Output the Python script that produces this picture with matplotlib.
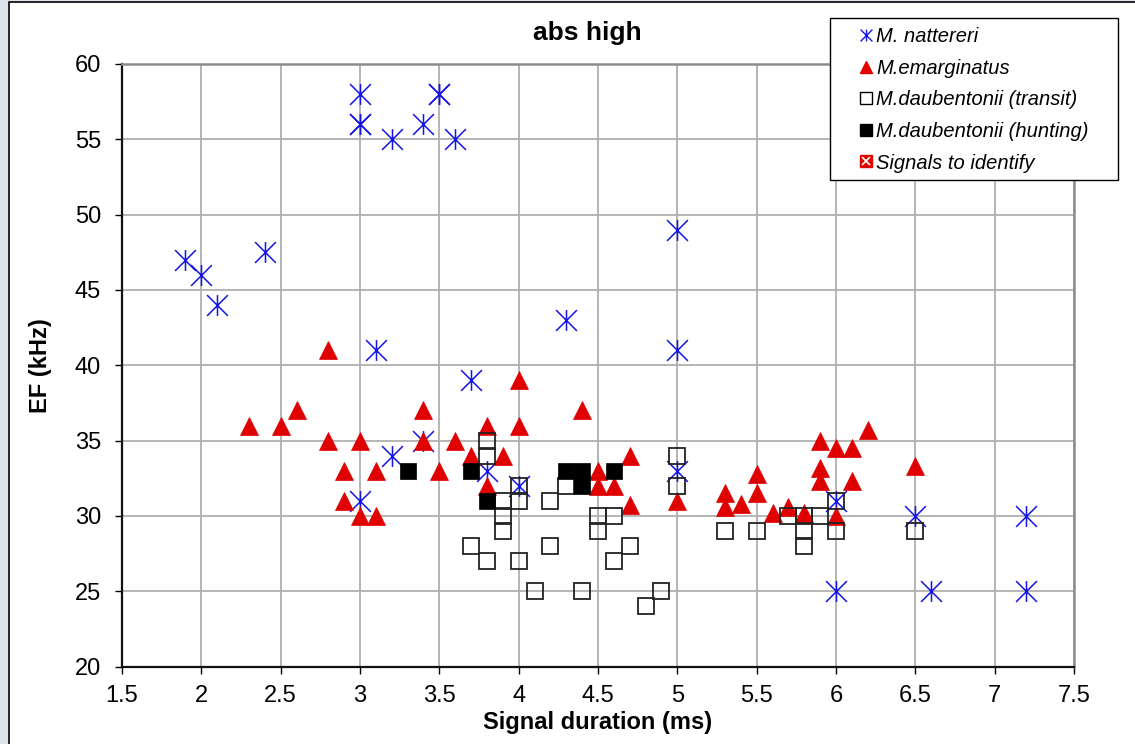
import matplotlib
matplotlib.use("Agg")
import matplotlib.pyplot as plt
from matplotlib.path import Path
from matplotlib.lines import Line2D
from matplotlib.legend_handler import HandlerTuple
from matplotlib.patches import Rectangle

plt.rcParams['font.family'] = ['Liberation Sans', 'DejaVu Sans']

# ---------------- data ----------------
natt_x = [1.9, 2.0, 2.1, 2.4, 3.0, 3.0, 3.0, 3.2, 3.4, 3.5, 3.5, 3.6, 3.1, 3.7, 3.4, 3.2, 3.0,
          3.8, 4.0, 4.3, 5.0, 5.0, 5.0, 6.0, 6.0, 6.5, 6.6, 7.2, 7.2]
natt_y = [47, 46, 44, 47.5, 58, 56, 56, 55, 56, 58, 58, 55, 41, 39, 35, 34, 31,
          33, 32, 43, 49, 41, 33, 31, 25, 30, 25, 30, 25]

emar_x = [2.3, 2.5, 2.6, 2.8, 2.8, 2.9, 2.9, 3.0, 3.0, 3.1, 3.1, 3.4, 3.4, 3.5, 3.6, 3.7,
          3.8, 3.8, 3.9, 4.0, 4.0, 4.4, 4.5, 4.5, 4.6, 4.7, 4.7, 5.0, 5.3, 5.3, 5.4, 5.5,
          5.5, 5.6, 5.7, 5.8, 5.9, 5.9, 5.9, 6.0, 6.0, 6.1, 6.1, 6.2, 6.5]
emar_y = [36, 36, 37, 41, 35, 33, 31, 35, 30, 33, 30, 37, 35, 33, 35, 34,
          36, 32, 34, 39, 36, 37, 33, 32, 32, 34, 30.7, 31, 31.5, 30.6, 30.8, 32.8,
          31.5, 30.2, 30.6, 30.2, 35, 33.2, 32.3, 34.5, 30, 34.5, 32.3, 35.7, 33.3]

tran_x = [3.7, 3.8, 3.8, 3.8, 3.9, 3.9, 3.9, 4.0, 4.0, 4.0, 4.1, 4.2, 4.2, 4.3, 4.4, 4.5,
          4.5, 4.6, 4.6, 4.7, 4.8, 4.9, 5.0, 5.0, 5.3, 5.5, 5.7, 5.8, 5.8, 5.8, 5.9, 6.0,
          6.0, 6.5]
tran_y = [28, 35, 34, 27, 31, 30, 29, 32, 31, 27, 25, 31, 28, 32, 25, 30,
          29, 30, 27, 28, 24, 25, 34, 32, 29, 29, 30, 30, 29, 28, 30, 31,
          29, 29]

hunt_x = [3.3, 3.7, 3.8, 4.3, 4.4, 4.4, 4.6]
hunt_y = [33, 33, 31, 33, 33, 32, 33]

ident_x = []
ident_y = []

series_labels = ["M. nattereri", "M.emarginatus", "M.daubentonii (transit)",
                 "M.daubentonii (hunting)", "Signals to identify"]
x_ticks = [1.5, 2, 2.5, 3, 3.5, 4, 4.5, 5, 5.5, 6, 6.5, 7, 7.5]
x_ticklabels = ["1.5", "2", "2.5", "3", "3.5", "4", "4.5", "5", "5.5", "6", "6.5", "7", "7.5"]
y_ticks = [20, 25, 30, 35, 40, 45, 50, 55, 60]

# ---------------- styles ----------------
BLUE = '#1414E6'
RED = '#E00000'

star_path = Path([(0, -1), (0, 1), (-1, -1), (1, 1), (-1, 1), (1, -1)],
                 [Path.MOVETO, Path.LINETO, Path.MOVETO, Path.LINETO, Path.MOVETO, Path.LINETO])

W, H = 1135, 744
fig = plt.figure(figsize=(W / 100, H / 100), dpi=100)
fig.patch.set_facecolor('#DDE3EB')
# chart area
fig.patches.append(Rectangle((9 / W, -0.01), 1.2, 1 - 2 / H + 0.01, transform=fig.transFigure,
                             facecolor='white', edgecolor='black', linewidth=1.2, zorder=-10))
# legend frame
fig.patches.append(Rectangle((830 / W, 1 - 180 / H), (1118 - 830) / W, 162 / H,
                             transform=fig.transFigure, facecolor='white',
                             edgecolor='black', linewidth=1.0, zorder=5))

ax = fig.add_axes([122 / W, 1 - 666.5 / H, (1074 - 122) / W, (666.5 - 64) / H])
ax.set_facecolor('white')

ax.plot(natt_x, natt_y, linestyle='none', marker=star_path, markersize=15,
        markeredgecolor=BLUE, markerfacecolor='none', markeredgewidth=1.1, zorder=3)
ax.plot(emar_x, emar_y, linestyle='none', marker='^', markersize=12.3,
        markerfacecolor=RED, markeredgecolor=RED, markeredgewidth=0.5, zorder=4)
ax.plot(tran_x, tran_y, linestyle='none', marker='s', markersize=11,
        markerfacecolor='none', markeredgecolor='#222222', markeredgewidth=1.3, zorder=5)
ax.plot(hunt_x, hunt_y, linestyle='none', marker='s', markersize=11.8,
        markerfacecolor='black', markeredgecolor='black', markeredgewidth=0.5, zorder=6)
ax.plot(ident_x, ident_y, linestyle='none', marker='s', markersize=8,
        markerfacecolor=RED, markeredgecolor=RED, zorder=7)

ax.set_xlim(1.5, 7.5)
ax.set_ylim(20, 60)
ax.set_xticks(x_ticks)
ax.set_xticklabels(x_ticklabels)
ax.set_yticks(y_ticks)
ax.grid(True, color='#B0B0B0', linewidth=1.3)
ax.set_axisbelow(True)
for s in ['left', 'bottom']:
    ax.spines[s].set_color('#111111')
    ax.spines[s].set_linewidth(1.6)
for s in ['top', 'right']:
    ax.spines[s].set_color('#8C8C8C')
    ax.spines[s].set_linewidth(1.8)
ax.tick_params(axis='both', direction='out', length=4.8, width=1, colors='black',
               labelsize=17)
ax.tick_params(axis='x', pad=8.5)
ax.tick_params(axis='y', pad=10.3)

ax.set_xlabel('Signal duration (ms)', fontsize=17, fontweight='bold', va='center')
ax.xaxis.set_label_coords(0.5, -(722 - 666.5) / 602.5)
ax.set_ylabel('EF (kHz)', fontsize=17, fontweight='bold', va='center')
ax.yaxis.set_label_coords(-(122 - 40) / 952, 0.5)
fig.text(587 / W, 1 - 33 / H, 'abs high', ha='center', va='center',
         fontsize=19, fontweight='bold')

# legend
h1 = Line2D([], [], linestyle='none', marker=star_path, markersize=8.5,
            markeredgecolor=BLUE, markerfacecolor='none', markeredgewidth=1.0)
h2 = Line2D([], [], linestyle='none', marker='^', markersize=9,
            markerfacecolor=RED, markeredgecolor=RED)
h3 = Line2D([], [], linestyle='none', marker='s', markersize=8,
            markerfacecolor='white', markeredgecolor='black', markeredgewidth=1.0)
h4 = Line2D([], [], linestyle='none', marker='s', markersize=8,
            markerfacecolor='black', markeredgecolor='black')
h5a = Line2D([], [], linestyle='none', marker='s', markersize=8,
             markerfacecolor=RED, markeredgecolor=RED)
h5b = Line2D([], [], linestyle='none', marker='x', markersize=6,
             markeredgecolor='white', markeredgewidth=1.2)
leg = fig.legend([h1, h2, h3, h4, (h5a, h5b)], series_labels,
                 handler_map={tuple: HandlerTuple(ndivide=1, pad=0)},
                 loc='upper left', bbox_to_anchor=(830 / W, 1 + 1 / H),
                 borderaxespad=0, frameon=False,
                 prop={'style': 'italic', 'size': 14.5},
                 handlelength=0.8, handletextpad=0.1, labelspacing=0.625, borderpad=1.4)
leg.set_zorder(6)

fig.savefig('out.png', dpi=100)
